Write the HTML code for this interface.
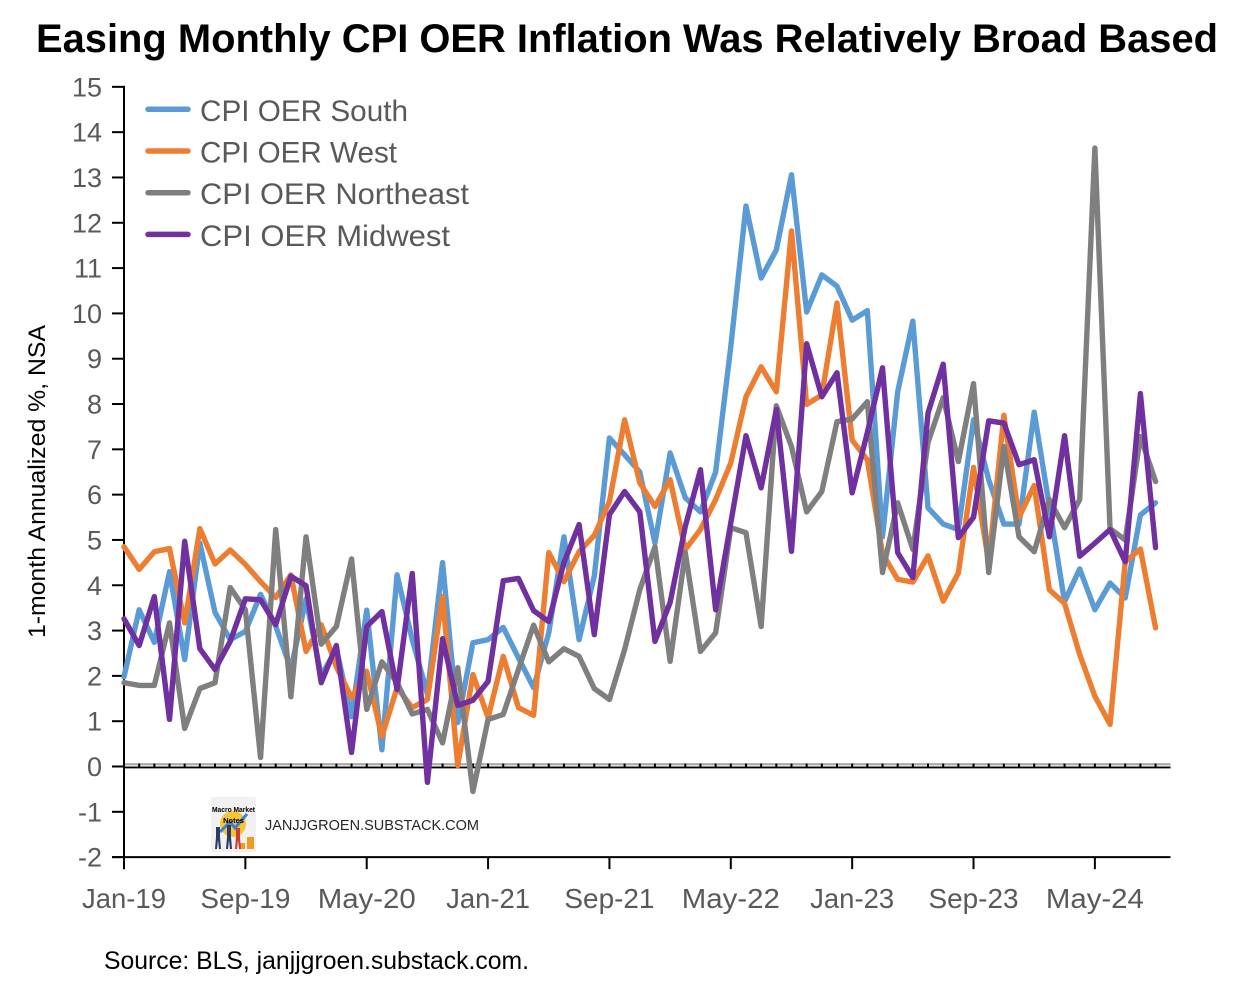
<!DOCTYPE html>
<html lang="en">
<head>
<meta charset="utf-8">
<title>Easing Monthly CPI OER Inflation Was Relatively Broad Based</title>
<style>
html,body{margin:0;padding:0;background:#fff;}
body{width:1246px;height:1003px;overflow:hidden;}
svg{display:block;font-family:"Liberation Sans",sans-serif;}
</style>
</head>
<body>
<svg id="chart" xmlns="http://www.w3.org/2000/svg" width="1246" height="1003" viewBox="0 0 1246 1003">
  <rect x="0" y="0" width="1246" height="1003" fill="#ffffff"/>
  <text x="36" y="52" font-size="39.500" font-weight="bold" fill="#000" textLength="1182" lengthAdjust="spacingAndGlyphs">Easing Monthly CPI OER Inflation Was Relatively Broad Based</text>
  <text transform="translate(45,638) rotate(-90)" font-size="24" fill="#000" textLength="313" lengthAdjust="spacingAndGlyphs">1-month Annualized %, NSA</text>
  <g id="axes"></g>
  <g id="series"></g>
  <g id="legend"></g>
  <g>
    <rect x="211" y="797" width="45" height="55" rx="2" fill="#f1f1f1"/>
    <circle cx="233" cy="824" r="13" fill="#f7c531"/>
    <path d="M220 832 L230 822 L235 828 L247 814" fill="none" stroke="#3f7fd0" stroke-width="3"/>
    <rect x="240" y="843" width="5" height="6" fill="#f29a1f"/>
    <rect x="247" y="837" width="7" height="12" fill="#f29a1f"/>
    <path d="M216 827h4v10l1 12h-2l-1-9-1 9h-2l1-12z" fill="#2b3a67"/>
    <path d="M227 825h4v12l1 12h-2l-1-9-1 9h-2l1-12z" fill="#2b3a67"/>
    <path d="M236 828h4v9l1 12h-2l-1-9-1 9h-2l1-12z" fill="#c8402f"/>
    <text x="233.500" y="812" font-size="7.500" font-weight="bold" fill="#000" text-anchor="middle" textLength="43" lengthAdjust="spacingAndGlyphs">Macro Market</text>
    <text x="233.500" y="823" font-size="7.500" font-weight="bold" fill="#000" text-anchor="middle">Notes</text>
  </g>
  <text x="265" y="830" font-size="14.500" fill="#262626" textLength="214" lengthAdjust="spacingAndGlyphs">JANJJGROEN.SUBSTACK.COM</text>
  <text x="104" y="969" font-size="25" fill="#000" textLength="425" lengthAdjust="spacingAndGlyphs">Source: BLS, janjjgroen.substack.com.</text>
</svg>
<script>
var categories = ["Jan-19","Feb-19","Mar-19","Apr-19","May-19","Jun-19","Jul-19","Aug-19","Sep-19","Oct-19","Nov-19","Dec-19",
"Jan-20","Feb-20","Mar-20","Apr-20","May-20","Jun-20","Jul-20","Aug-20","Sep-20","Oct-20","Nov-20","Dec-20",
"Jan-21","Feb-21","Mar-21","Apr-21","May-21","Jun-21","Jul-21","Aug-21","Sep-21","Oct-21","Nov-21","Dec-21",
"Jan-22","Feb-22","Mar-22","Apr-22","May-22","Jun-22","Jul-22","Aug-22","Sep-22","Oct-22","Nov-22","Dec-22",
"Jan-23","Feb-23","Mar-23","Apr-23","May-23","Jun-23","Jul-23","Aug-23","Sep-23","Oct-23","Nov-23","Dec-23",
"Jan-24","Feb-24","Mar-24","Apr-24","May-24","Jun-24","Jul-24","Aug-24","Sep-24"];
var south = [1.98,3.46,2.74,4.3,2.36,4.93,3.4,2.8,2.98,3.8,3.1,2.15,3.7,2.0,2.6,1.1,3.45,0.37,4.23,2.8,1.6,4.5,0.97,2.73,2.8,3.07,2.4,1.74,2.95,5.07,2.8,4.2,7.25,6.88,6.5,4.93,6.92,5.93,5.62,6.5,9.27,12.37,10.78,11.4,13.06,10.03,10.85,10.6,9.85,10.06,5.07,8.27,9.83,5.71,5.35,5.23,7.65,6.33,5.35,5.35,7.82,5.74,3.64,4.36,3.46,4.05,3.72,5.55,5.82];
var west = [4.85,4.35,4.74,4.81,3.17,5.25,4.47,4.78,4.46,4.08,3.73,4.23,2.54,3.13,2.2,1.52,2.1,0.66,1.74,1.3,1.48,3.75,0.02,2.03,1.08,2.43,1.3,1.13,4.72,4.08,4.74,5.1,5.85,7.65,6.26,5.74,6.33,4.79,5.23,5.89,6.7,8.16,8.82,8.27,11.82,7.99,8.2,10.23,7.2,6.77,4.7,4.13,4.07,4.65,3.65,4.27,6.6,4.5,7.75,5.5,6.2,3.9,3.6,2.47,1.55,0.93,4.52,4.8,3.06];
var northeast = [1.85,1.79,1.79,3.17,0.84,1.72,1.85,3.95,3.46,0.2,5.23,1.54,5.07,2.7,3.09,4.58,1.26,2.31,1.85,1.16,1.26,0.52,2.18,-0.55,1.04,1.15,2.14,3.12,2.31,2.6,2.43,1.72,1.48,2.58,3.9,4.85,2.32,4.72,2.54,2.95,5.27,5.16,3.09,7.96,7.06,5.62,6.07,7.61,7.67,8.05,4.28,5.82,4.79,7.15,8.14,6.73,8.45,4.28,7.06,5.07,4.74,5.89,5.27,5.89,13.65,5.25,5.0,7.28,6.29];
var midwest = [3.26,2.67,3.75,1.04,4.97,2.6,2.14,2.76,3.7,3.68,3.13,4.2,3.99,1.85,2.67,0.31,3.09,3.42,1.7,4.26,-0.35,2.82,1.35,1.46,1.88,4.1,4.15,3.44,3.2,4.5,5.34,2.91,5.56,6.07,5.62,2.76,3.62,5.3,6.55,3.46,5.38,7.3,6.15,7.88,4.75,9.33,8.16,8.69,6.04,7.37,8.8,4.72,4.17,7.8,8.88,5.05,5.5,7.63,7.58,6.66,6.77,5.07,7.3,4.64,4.93,5.23,4.52,8.23,4.83];
var yTickValues = [-2,-1,0,1,2,3,4,5,6,7,8,9,10,11,12,13,14,15];
var seriesNames = ["CPI OER South","CPI OER West","CPI OER Northeast","CPI OER Midwest"];
var seriesSlugs = ["south","west","northeast","midwest"];
var seriesColors = ["#5b9bd5","#ed7d31","#7f7f7f","#7030a0"];
var seriesValues = [south, west, northeast, midwest];
var xTickEvery = 8;

var NS = "http://www.w3.org/2000/svg";
var plotLeft = 124, plotRight = 1170.5, monthStep = 15.17;
var zeroY = 766.5, unitY = 45.31;
function xPos(i){ return plotLeft + i * monthStep; }
function yPos(v){ return zeroY - v * unitY; }
function make(tag, attrs, parent){
  var el = document.createElementNS(NS, tag);
  for (var k in attrs) el.setAttribute(k, attrs[k]);
  parent.appendChild(el);
  return el;
}
function monthLabelWidth(label){
  var m = label.slice(0, 3);
  return m === "Jan" ? 84 : (m === "Sep" ? 90 : 98);
}

var axes = document.getElementById("axes");
var seriesGroup = document.getElementById("series");
var legend = document.getElementById("legend");
var bottomY = yPos(yTickValues[0]);
var topY = yPos(yTickValues[yTickValues.length - 1]);

// Zero reference band
var band = make("rect", {x: plotLeft, y: zeroY - 2.5, width: plotRight - plotLeft, height: 4, fill: "#dcdcdc"}, axes);


var bandTop = make("line", {x1: plotLeft, x2: plotRight, y1: zeroY - 2.5, y2: zeroY - 2.5, stroke: "#8c8c8c", "stroke-width": 1.2}, axes);


var zeroLine = make("line", {x1: plotLeft, x2: plotRight, y1: zeroY + 1, y2: zeroY + 1, stroke: "#000", "stroke-width": 1.8}, axes);


categories.forEach(function(c, i){
  var t = make("line", {x1: xPos(i), x2: xPos(i), y1: zeroY - 3, y2: zeroY + 1.5, stroke: "#000", "stroke-width": 2}, axes);
  
  
});

// Y axis
var yAxis = make("line", {x1: plotLeft, x2: plotLeft, y1: topY - 1, y2: bottomY + 12, stroke: "#000", "stroke-width": 2}, axes);


yTickValues.forEach(function(v){
  var t = make("line", {x1: plotLeft - 12, x2: plotLeft, y1: yPos(v), y2: yPos(v), stroke: "#000", "stroke-width": 2}, axes);
  
  
  var l = make("text", {x: 102, y: yPos(v) + 9.5, "font-size": 27, fill: "#595959", "text-anchor": "end"}, axes);
  
  
  l.textContent = String(v);
});

// X axis
var xAxis = make("line", {x1: plotLeft - 12, x2: plotRight, y1: bottomY, y2: bottomY, stroke: "#000", "stroke-width": 2}, axes);


categories.forEach(function(c, i){
  if (i % xTickEvery !== 0) return;
  var t = make("line", {x1: xPos(i), x2: xPos(i), y1: bottomY, y2: bottomY + 12, stroke: "#000", "stroke-width": 2}, axes);
  
  
  var l = make("text", {x: xPos(i), y: 908, "font-size": 27.5, fill: "#595959", "text-anchor": "middle", textLength: monthLabelWidth(c), lengthAdjust: "spacingAndGlyphs"}, axes);
  
  
  l.textContent = c;
});

// Series lines
seriesValues.forEach(function(vals, s){
  var pts = vals.map(function(v, i){ return xPos(i).toFixed(2) + "," + yPos(v).toFixed(2); }).join(" ");
  var p = make("polyline", {points: pts, fill: "none", stroke: seriesColors[s], "stroke-width": 5.4, "stroke-linejoin": "round", "stroke-linecap": "round"}, seriesGroup);
  
  
});

// Legend
var legendWidths = [208, 197, 269, 250];
seriesNames.forEach(function(name, s){
  var cy = 109.3 + s * 41.7;
  var k = make("line", {x1: 148, x2: 188, y1: cy, y2: cy, stroke: seriesColors[s], "stroke-width": 5.5, "stroke-linecap": "round"}, legend);
  
  
  var t = make("text", {x: 200, y: cy + 11.5, "font-size": 30, fill: "#595959", textLength: legendWidths[s], lengthAdjust: "spacingAndGlyphs"}, legend);
  
  
  t.textContent = name;
});
</script>
</body>
</html>
